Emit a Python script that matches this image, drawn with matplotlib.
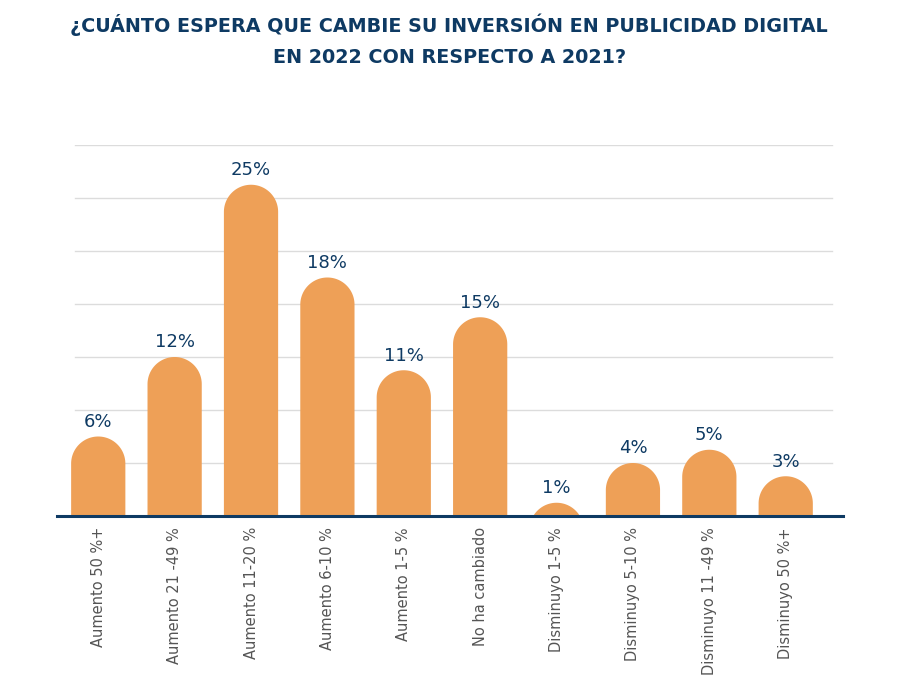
import matplotlib
matplotlib.use("Agg")
import matplotlib.pyplot as plt
from matplotlib.patches import Polygon
import numpy as np

categorias = ["Aumento 50 %+", "Aumento 21 -49 %", "Aumento 11-20 %", "Aumento 6-10 %",
              "Aumento 1-5 %", "No ha cambiado", "Disminuyo 1-5 %", "Disminuyo 5-10 %",
              "Disminuyo 11 -49 %", "Disminuyo 50 %+"]
valores = [6, 12, 25, 18, 11, 15, 1, 4, 5, 3]
etiquetas = ["6%", "12%", "25%", "18%", "11%", "15%", "1%", "4%", "5%", "3%"]
lineas_guia = [4, 8, 12, 16, 20, 24, 28]

titulo = "¿CUÁNTO ESPERA QUE CAMBIE SU INVERSIÓN EN PUBLICIDAD DIGITAL\nEN 2022 CON RESPECTO A 2021?"

naranja = "#EEA057"
azul = "#0E3A63"

W, H = 900, 679
fig = plt.figure(figsize=(9, 6.79), dpi=100)
# axes placed in pixels: left 57, right 843, baseline 516, top 145
ax = fig.add_axes([57 / W, (H - 516) / H, 786 / W, (516 - 145) / H])
ax.set_xlim(-0.54, 9.75)
ax.set_ylim(0, 28)

px_x = 786 / 10.29   # px per x unit
px_y = 371 / 28      # px per y unit

# gridlines
for g in lineas_guia:
    ax.plot([-0.3, 9.6], [g, g], color="#dcdcdc", lw=1, zorder=0)

ancho = 0.71
r_x = ancho / 2
r_y = r_x * px_x / px_y
t = np.linspace(np.pi, 0, 60)
for i, v in enumerate(valores):
    cy = v - r_y
    arc = np.column_stack([i + r_x * np.cos(t), cy + r_y * np.sin(t)])
    pts = np.vstack([[i - r_x, min(0, cy)], arc, [i + r_x, min(0, cy)]])
    ax.add_patch(Polygon(pts, closed=True, facecolor=naranja, edgecolor="none", zorder=2))
    ax.annotate(etiquetas[i], (i, v), xytext=(0, 4), textcoords="offset points",
                ha="center", va="bottom", fontsize=13, color=azul)

ax.axhline(0, color=azul, lw=2.2, zorder=3, clip_on=False)

ax.set_xticks(range(len(categorias)))
ax.set_xticklabels(categorias, rotation=90, fontsize=10.5, color="#555555")
ax.tick_params(axis="x", length=0, pad=8)
ax.set_yticks([])
for s in ax.spines.values():
    s.set_visible(False)

fig.text(0.499, 1 - 40 / H, titulo, ha="center", va="center", fontsize=13.8,
         fontweight="bold", color=azul, linespacing=1.8)

fig.savefig("out.png", dpi=100)
